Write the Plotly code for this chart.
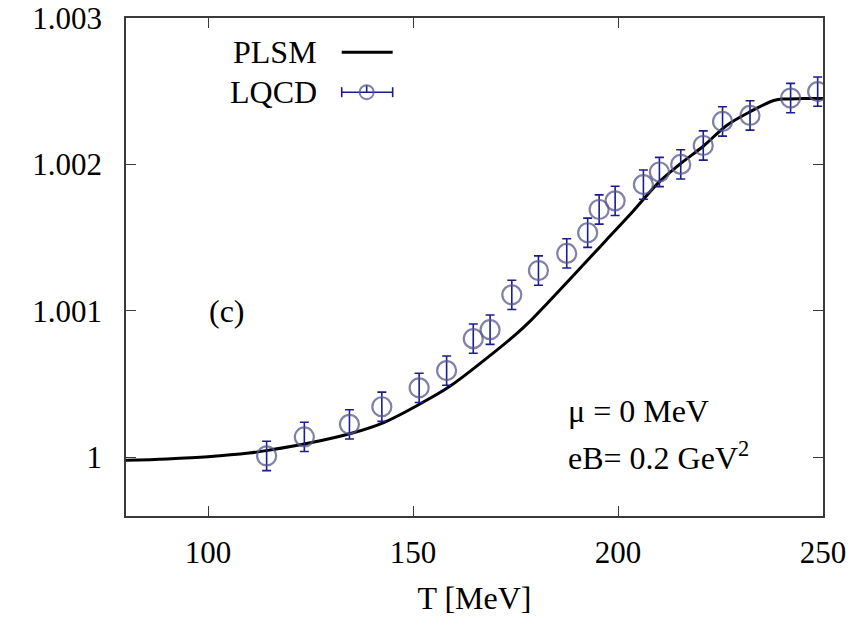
import plotly.graph_objects as go

# PLSM model curve
plsm_T = [80, 90, 100, 110, 115, 125, 135, 143, 152, 159, 167, 175, 178.5, 183,
          190.7, 197, 203, 210, 215, 221, 226.5, 232, 238, 241, 245, 250]
plsm_val = [0.99998, 0.99999, 1.000005, 1.00003, 1.00005, 1.0001, 1.000165, 1.00024,
            1.00037, 1.000486, 1.000656, 1.000838, 1.000929, 1.00106, 1.00129, 1.00148,
            1.00166, 1.00188, 1.002, 1.00213, 1.002267, 1.002357, 1.002437, 1.002448,
            1.00245, 1.00245]

# LQCD lattice points with uncertainties
lqcd_T = [114.3, 123.5, 134.5, 142.4, 151.5, 158.2, 164.7, 168.8, 174.1, 180.6, 187.5,
          192.6, 195.4, 199.3, 206.2, 210.1, 215.3, 220.8, 225.5, 232.2, 242.1, 248.7]
lqcd_val = [1.00001, 1.00014, 1.000226, 1.000346, 1.000475, 1.000593, 1.000811,
            1.000872, 1.00111, 1.001276, 1.001393, 1.001534, 1.001693, 1.001752,
            1.001863, 1.001949, 1.002001, 1.00213, 1.002294, 1.002335, 1.002454, 1.002498]
lqcd_err = [0.0001] * len(lqcd_T)

x_ticks = [100, 150, 200, 250]
y_ticks = [1.0, 1.001, 1.002, 1.003]
y_ticktext = ["1", "1.001", "1.002", "1.003"]

FONT = "Liberation Serif, Times New Roman, serif"
NAVY = "#1c1c8e"
CIRCLE = "rgba(85,85,140,0.75)"

fig = go.Figure()
fig.add_trace(go.Scatter(x=plsm_T, y=plsm_val, mode="lines",
                         line=dict(color="black", width=3, shape="spline"),
                         showlegend=False))
fig.add_trace(go.Scatter(x=lqcd_T, y=lqcd_val, mode="markers",
                         marker=dict(symbol="circle-open", size=19, color=CIRCLE,
                                     line=dict(color=CIRCLE, width=2.2)),
                         error_y=dict(type="data", array=lqcd_err, visible=True,
                                      color=NAVY, thickness=1.6, width=4.5),
                         showlegend=False))

axis_common = dict(showline=True, linecolor="#3a3a3a", linewidth=1.6, mirror="allticks",
                   ticks="inside", ticklen=10, tickwidth=1.4, tickcolor="#3a3a3a",
                   showgrid=False, zeroline=False, ticklabeloverflow="allow",
                   automargin=False,
                   tickfont=dict(family=FONT, size=31, color="black"))

fig.update_xaxes(range=[80, 250], tickvals=x_ticks, ticklabelstandoff=8,
                 title=dict(text="T [MeV]", font=dict(family=FONT, size=32, color="black"),
                            standoff=18),
                 **axis_common)
fig.update_yaxes(range=[0.99960, 1.0030005], tickvals=y_ticks, ticktext=y_ticktext,
                 ticklabelstandoff=16, **axis_common)

# key drawn in the upper-left corner: label on the left, sample on the right
txt = dict(family=FONT, size=32, color="black")
fig.add_annotation(x=0.277, y=0.931, xref="paper", yref="paper", text="PLSM",
                   showarrow=False, xanchor="right", yanchor="middle", font=txt)
fig.add_annotation(x=0.277, y=0.851, xref="paper", yref="paper", text="LQCD",
                   showarrow=False, xanchor="right", yanchor="middle", font=txt)
fig.add_shape(type="line", xref="paper", yref="paper", x0=0.3095, x1=0.3826,
              y0=0.931, y1=0.931, line=dict(color="black", width=3))
fig.add_shape(type="line", xref="paper", yref="paper", x0=0.3095, x1=0.3826,
              y0=0.851, y1=0.851, line=dict(color=NAVY, width=1.6))
for xc in (0.3095, 0.3826):
    fig.add_shape(type="line", xref="paper", yref="paper", x0=xc, x1=xc,
                  y0=0.841, y1=0.861, line=dict(color=NAVY, width=1.6))
fig.add_shape(type="line", xref="paper", yref="paper", x0=0.3453, x1=0.3453,
              y0=0.851, y1=0.865, line=dict(color=NAVY, width=1.6))
fig.add_shape(type="circle", xref="paper", yref="paper", x0=0.3453 - 0.0101,
              x1=0.3453 + 0.0101, y0=0.851 - 0.014, y1=0.851 + 0.014,
              line=dict(color=CIRCLE, width=2))

fig.add_annotation(x=0.1445, y=0.411, xref="paper", yref="paper", text="(c)",
                   showarrow=False, xanchor="center", yanchor="middle", font=txt)
fig.add_annotation(x=0.631, y=0.21, xref="paper", yref="paper", text="μ = 0 MeV",
                   showarrow=False, xanchor="left", yanchor="middle", font=txt)
fig.add_annotation(x=0.631, y=0.12, xref="paper", yref="paper",
                   text="eB= 0.2 GeV<sup>2</sup>",
                   showarrow=False, xanchor="left", yanchor="middle", font=txt)

fig.update_layout(width=866, height=627, margin=dict(l=126, r=43, t=18, b=111),
                  plot_bgcolor="white", paper_bgcolor="white")

fig.write_html("out.html")
